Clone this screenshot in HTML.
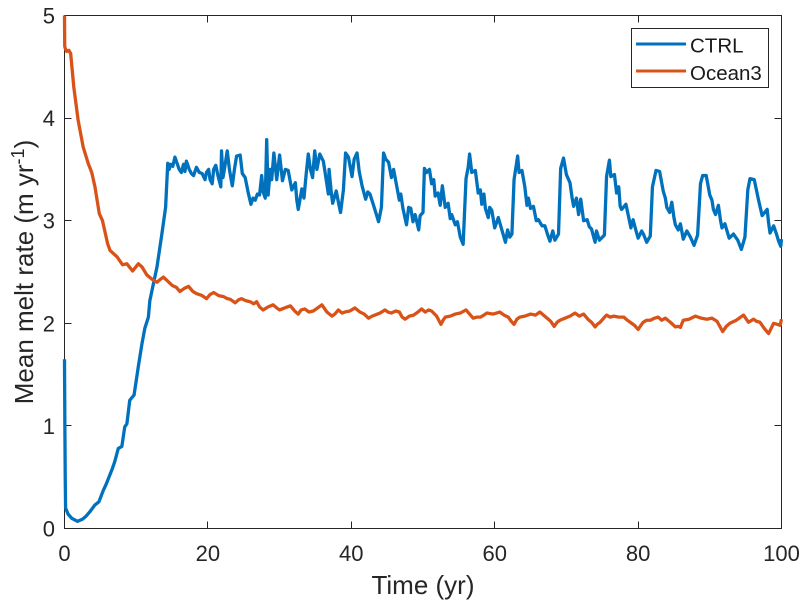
<!DOCTYPE html>
<html>
<head>
<meta charset="utf-8">
<title>Mean melt rate</title>
<style>
html,body{margin:0;padding:0;background:#fff;}
svg{display:block;font-family:"Liberation Sans",Arial,sans-serif;}
</style>
</head>
<body>
<svg id="chart" xmlns="http://www.w3.org/2000/svg" width="800" height="600" viewBox="0 0 800 600">
  <defs>
    <clipPath id="plot-clip"><rect x="62" y="15" width="722" height="515"></rect></clipPath>
  </defs>
  <rect x="0" y="0" width="800" height="600" fill="#fff"></rect>
  <g id="axes"></g>
  <g id="series" clip-path="url(#plot-clip)"></g>
  <text x="423" y="594" font-size="26" fill="#262626" text-anchor="middle">Time (yr)</text>
  <text transform="translate(33,272) rotate(-90)" font-size="26" fill="#262626" text-anchor="middle">Mean melt rate (m yr<tspan font-size="18" dy="-9">-1</tspan><tspan dy="9">)</tspan></text>
  <g>
    <rect x="631.5" y="28.5" width="137" height="59" fill="#fff" stroke="#262626" stroke-width="1"></rect>
    <line x1="636" y1="44" x2="686" y2="44" stroke="#0072BD" stroke-width="3"></line>
    <text x="690" y="52.5" font-size="20.5" fill="#1a1a1a">CTRL</text>
    <line x1="636" y1="71" x2="686" y2="71" stroke="#D95319" stroke-width="3"></line>
    <text x="690" y="80" font-size="20.5" fill="#1a1a1a">Ocean3</text>
  </g>
</svg>
<script>
const xTicks = [0, 20, 40, 60, 80, 100];
const yTicks = [0, 1, 2, 3, 4, 5];

const ctrlTime = [
  0,.05,.1,.15,.5,1,1.8,2.5,3,3.5,
  4.25,4.8,5.4,5.8,6.6,7,7.5,8,8.4,8.7,
  9.1,9.7,10.3,10.8,11.2,11.7,11.9,12.9,13.6,14.1,
  14.4,14.6,14.8,15.1,15.4,15.7,16,16.3,16.6,16.8,
  17,17.4,17.7,18,18.4,18.8,19.2,19.6,19.8,20.1,
  20.3,20.6,20.8,21.1,21.4,21.8,21.9,22.1,22.3,22.7,
  23,23.4,23.7,24,24.5,24.8,25.2,25.6,26,26.3,
  26.6,26.9,27.2,27.5,27.7,28,28.2,28.4,28.7,28.9,
  29.2,29.6,30,30.4,30.8,31.2,31.7,32.2,32.4,32.6,
  33.1,33.4,33.7,34,34.3,34.6,34.9,35.2,35.6,36.1,
  36.5,36.8,36.9,37.2,37.4,37.9,38.2,38.5,38.9,39.2,
  39.6,40.1,40.4,40.8,41.1,41.5,42,42.3,42.6,43.1,
  43.5,43.8,44.2,44.5,44.8,45.2,45.6,45.9,46.3,46.7,
  46.9,47.2,47.7,48,48.3,48.6,48.9,49.4,49.6,50,
  50.2,50.5,50.9,51.2,51.5,51.7,52.1,52.4,52.7,53.1,
  53.5,53.8,54,54.5,54.8,55.2,55.6,56,56.3,56.5,
  56.8,57.3,57.7,58,58.2,58.5,58.7,59.1,59.3,59.6,
  60,60.5,61,61.5,61.8,62.1,62.4,62.7,63.2,63.4,
  63.8,64.2,64.5,64.7,65,65.4,65.8,66.1,66.6,67,
  67.4,67.7,68.1,68.4,68.9,69.2,69.6,70,70.5,70.8,
  71,71.4,71.7,72,72.4,72.9,73.2,73.5,74,74.2,
  74.6,75.3,75.6,76,76.2,76.7,77,77.3,77.5,77.7,
  78.3,78.7,79,79.3,79.6,80,80.5,80.8,81.2,81.7,
  82,82.5,83,83.5,83.8,84,84.4,84.7,85,85.2,
  85.6,85.9,86.3,86.8,87.3,87.8,88.3,88.7,89,89.5,
  90,90.3,90.5,90.8,91.2,91.5,91.7,92.1,92.7,93.3,
  93.9,94.4,94.9,95.3,95.6,96.2,96.8,97,97.3,98,
  98.2,98.4,98.9,99.3,99.6,99.9,100
];
const ctrlMelt = [
  1.65,1,.5,.2,.14,.1,.07,.09,.12,.16,
  .23,.26,.37,.43,.57,.65,.78,.8,.99,1.02,
  1.25,1.3,1.58,1.8,1.95,2.06,2.22,2.55,2.88,3.13,
  3.56,3.5,3.55,3.53,3.62,3.56,3.5,3.47,3.55,3.48,
  3.58,3.5,3.46,3.44,3.52,3.47,3.46,3.4,3.47,3.5,
  3.4,3.36,3.5,3.54,3.44,3.33,3.68,3.42,3.5,3.68,
  3.5,3.34,3.5,3.63,3.64,3.46,3.42,3.28,3.16,3.22,
  3.2,3.26,3.25,3.44,3.28,3.22,3.79,3.25,3.5,3.4,
  3.66,3.4,3.64,3.39,3.5,3.49,3.3,3.37,3.2,3.11,
  3.31,3.22,3.45,3.65,3.5,3.42,3.68,3.5,3.65,3.58,
  3.4,3.26,3.5,3.28,3.17,3.29,3.18,3.08,3.3,3.66,
  3.62,3.43,3.6,3.66,3.48,3.34,3.21,3.28,3.26,3.15,
  3.06,2.99,3.13,3.66,3.6,3.57,3.42,3.5,3.35,3.2,
  3.26,3.12,2.96,3.13,3.12,2.99,3.06,2.91,3.05,3.08,
  3.51,3.47,3.5,3.36,3.4,3.24,3.27,3.15,3.34,3.13,
  3.17,3.02,3.06,2.96,2.99,2.84,2.77,3.41,3.52,3.65,
  3.47,3.49,3.27,3.3,3.16,3.26,3.12,3.03,3.13,3.1,
  2.93,3.03,2.91,2.79,2.91,2.84,2.87,3.4,3.63,3.47,
  3.49,3.33,3.15,3.22,3.12,3.14,3,3.01,2.95,2.95,
  2.86,2.8,2.9,2.81,2.87,3.51,3.61,3.45,3.37,3.22,
  3.14,3.22,3.06,3.21,3,3.01,2.94,2.92,2.79,2.9,
  2.81,2.86,3.43,3.59,3.43,3.45,3.27,3.33,3.14,3.11,
  3.16,3.03,2.93,3.01,2.93,2.83,2.9,2.86,2.79,2.85,
  3.33,3.49,3.48,3.29,3.22,3.13,3.08,3.18,3.03,2.96,
  2.91,2.97,2.82,2.9,2.84,2.76,2.86,3.36,3.44,3.44,
  3.25,3.2,3.11,3.06,3.15,3,2.93,2.97,2.83,2.87,
  2.81,2.72,2.84,3.3,3.41,3.4,3.2,3.14,3.05,3.11,
  2.98,2.88,2.95,2.87,2.8,2.75,2.82
];

const oceanTime = [
  0,.03,.1,.3,.6,.86,1.3,1.9,2.6,3.3,
  3.8,4.25,4.85,5.3,6,6.35,7.3,8.1,8.7,9.5,
  10.3,10.8,11.5,12.2,12.9,13.4,13.8,14.4,15,15.6,
  16.1,16.7,17.3,17.9,18.4,19.2,19.8,20.3,20.8,21.5,
  22.2,22.7,23.1,23.8,24.3,24.7,25.3,25.9,26.4,26.8,
  27.2,27.7,28.4,29.1,29.6,30,30.7,31.5,32.1,32.6,
  33,33.5,34.1,34.7,35.3,35.9,36.6,37.3,37.7,38.2,
  38.7,39.1,39.8,40.5,41.2,41.8,42.4,42.9,43.3,44,
  44.7,45.1,45.6,46.2,46.7,47.1,47.5,48.1,48.7,49.3,
  49.8,50.3,50.8,51.2,51.9,52.5,52.8,53.1,53.8,54.5,
  55.2,56,56.5,57,57.5,58,58.5,58.9,59.8,60.7,
  61.3,61.9,62.3,62.7,63.1,63.5,64.2,65,65.7,66.3,
  66.8,67.3,67.8,68.3,68.7,69.1,69.8,70.5,71.2,71.8,
  72.4,73,73.5,74,74.3,74.7,75.2,75.6,76.1,76.6,
  77.3,78,78.5,78.9,79.5,80,80.4,80.7,81.2,81.7,
  82.3,82.8,83.3,83.8,84.5,85.2,85.6,85.9,86.3,87.1,
  88,88.8,89.6,90.3,91,91.4,91.8,92.3,92.8,93.7,
  94.7,95.1,95.4,96.1,96.5,97,97.6,98.2,98.9,99.4,
  99.8,100
];
const oceanMelt = [
  5,4.7,4.68,4.65,4.66,4.63,4.3,3.98,3.72,3.56,
  3.47,3.33,3.07,3,2.78,2.71,2.65,2.57,2.58,2.51,
  2.58,2.55,2.47,2.43,2.4,2.43,2.45,2.41,2.37,2.35,
  2.31,2.34,2.36,2.31,2.29,2.27,2.24,2.28,2.3,2.27,
  2.26,2.24,2.235,2.2,2.23,2.24,2.22,2.21,2.19,2.21,
  2.16,2.13,2.16,2.18,2.15,2.13,2.15,2.17,2.12,2.09,
  2.13,2.14,2.11,2.12,2.15,2.18,2.11,2.07,2.09,2.13,
  2.1,2.11,2.12,2.15,2.11,2.09,2.05,2.07,2.08,2.1,
  2.13,2.11,2.1,2.12,2.11,2.06,2.04,2.07,2.08,2.11,
  2.14,2.11,2.13,2.12,2.07,1.99,2.03,2.06,2.07,2.09,
  2.1,2.13,2.09,2.05,2.06,2.06,2.08,2.1,2.09,2.11,
  2.08,2.06,2.02,1.99,2.04,2.06,2.07,2.09,2.08,2.11,
  2.08,2.05,2.02,1.97,2.01,2.03,2.05,2.07,2.1,2.07,
  2.09,2.04,2.01,1.965,1.99,2.01,2.05,2.08,2.06,2.07,
  2.06,2.06,2.03,2.01,1.98,1.94,1.98,2.01,2.03,2.03,
  2.05,2.06,2.03,2.05,2.01,1.965,1.97,1.96,2.03,2.04,
  2.07,2.05,2.04,2.05,2.02,1.97,1.92,1.97,2,2.03,
  2.08,2.04,2.01,2.04,2.02,2.01,1.95,1.9,2,1.99,
  1.98,2.04
];

const NS = 'http://www.w3.org/2000/svg';
const axisLeft = 64.5, axisRight = 781.5, axisTop = 15.5, axisBottom = 528.5;
const xMin = 0, xMax = 100, yMin = 0, yMax = 5;
const tickLength = 7;
const inkColor = '#262626';
const tickFontSize = 22;

function xScale(t) { return axisLeft + (t - xMin) / (xMax - xMin) * (axisRight - axisLeft); }
function yScale(v) { return axisBottom - (v - yMin) / (yMax - yMin) * (axisBottom - axisTop); }

function makeEl(tag, attrs) {
  const el = document.createElementNS(NS, tag);
  for (const k in attrs) el.setAttribute(k, attrs[k]);
  return el;
}
function buildPath(times, values) {
  const n = Math.min(times.length, values.length);
  let d = '';
  for (let i = 0; i < n; i++) {
    d += (i ? 'L' : 'M') + xScale(times[i]).toFixed(2) + ' ' + yScale(values[i]).toFixed(2);
  }
  return d;
}

const seriesGroup = document.getElementById('series');
const axesGroup = document.getElementById('axes');

const ctrlLine = makeEl('path', { d: buildPath(ctrlTime, ctrlMelt), fill: 'none', stroke: '#0072BD', 'stroke-width': 3.3, 'stroke-linejoin': 'round' });


seriesGroup.appendChild(ctrlLine);

const oceanLine = makeEl('path', { d: buildPath(oceanTime, oceanMelt), fill: 'none', stroke: '#D95319', 'stroke-width': 3.3, 'stroke-linejoin': 'round' });


seriesGroup.appendChild(oceanLine);

const frame = makeEl('rect', { x: axisLeft, y: axisTop, width: axisRight - axisLeft, height: axisBottom - axisTop, fill: 'none', stroke: inkColor, 'stroke-width': 1 });


axesGroup.appendChild(frame);

xTicks.forEach(function (t) {
  const x = Math.round(xScale(t) - 0.5) + 0.5;
  const bottomTick = makeEl('line', { x1: x, x2: x, y1: axisBottom, y2: axisBottom - tickLength, stroke: inkColor, 'stroke-width': 1 });
  
  
  axesGroup.appendChild(bottomTick);
  const topTick = makeEl('line', { x1: x, x2: x, y1: axisTop, y2: axisTop + tickLength, stroke: inkColor, 'stroke-width': 1 });
  
  
  axesGroup.appendChild(topTick);
  const label = makeEl('text', { x: xScale(t), y: 561, 'font-size': tickFontSize, fill: inkColor, 'text-anchor': 'middle' });
  
  
  label.textContent = String(t);
  axesGroup.appendChild(label);
});

yTicks.forEach(function (v) {
  const y = Math.round(yScale(v) - 0.5) + 0.5;
  const leftTick = makeEl('line', { x1: axisLeft, x2: axisLeft + tickLength, y1: y, y2: y, stroke: inkColor, 'stroke-width': 1 });
  
  
  axesGroup.appendChild(leftTick);
  const rightTick = makeEl('line', { x1: axisRight, x2: axisRight - tickLength, y1: y, y2: y, stroke: inkColor, 'stroke-width': 1 });
  
  
  axesGroup.appendChild(rightTick);
  const label = makeEl('text', { x: 55, y: yScale(v) + 8, 'font-size': tickFontSize, fill: inkColor, 'text-anchor': 'end' });
  
  
  label.textContent = String(v);
  axesGroup.appendChild(label);
});
</script>
</body>
</html>
